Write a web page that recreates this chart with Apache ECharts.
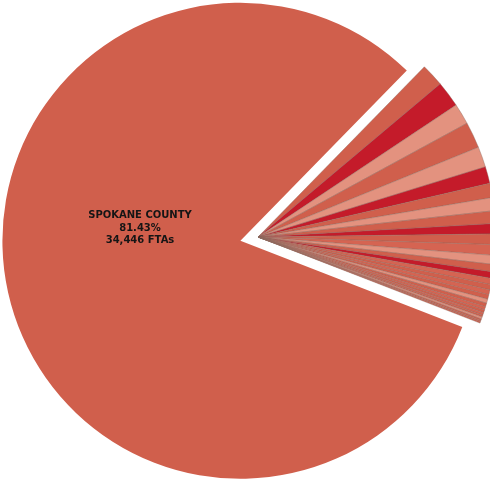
<!DOCTYPE html>
<html>
<head>
<meta charset="utf-8">
<script src="https://cdn.jsdelivr.net/npm/echarts@6/dist/echarts.min.js"></script>
<style>
html, body { margin: 0; padding: 0; background: #fff; }
#chart { width: 490px; height: 479px; }
</style>
</head>
<body>
<div id="chart"></div>
<script>
// FTAs per county
const counties = ['SPOKANE COUNTY', 'STEVENS COUNTY', 'KOOTENAI COUNTY', 'LINCOLN COUNTY', 'WHITMAN COUNTY',
    'PEND OREILLE COUNTY', 'KING COUNTY', 'ADAMS COUNTY', 'GRANT COUNTY', 'FERRY COUNTY', 'BONNER COUNTY',
    'BENTON COUNTY', 'PIERCE COUNTY', 'SNOHOMISH COUNTY', 'YAKIMA COUNTY', 'FRANKLIN COUNTY', 'CHELAN COUNTY',
    'DOUGLAS COUNTY', 'OKANOGAN COUNTY', 'WALLA WALLA COUNTY', 'CLARK COUNTY', 'THURSTON COUNTY',
    'ASOTIN COUNTY', 'KITTITAS COUNTY', 'GARFIELD COUNTY', 'COLUMBIA COUNTY', 'LATAH COUNTY',
    'SHOSHONE COUNTY', 'BOUNDARY COUNTY', 'OTHER'];
const ftas = [34446, 658, 752, 599, 752, 588, 482, 411, 376, 364, 294, 306, 306, 258, 212, 188, 176,
    153, 141, 129, 118, 106, 94, 82, 71, 59, 59, 47, 35, 39];

const MED = '#d05f4c', DARK = '#c41b2a', LIGHT = '#e3927f', MED2 = '#d56452';
const sliceColors = [MED, MED, DARK, LIGHT, MED, LIGHT, DARK, MED, LIGHT, MED, DARK, MED, MED2,
    LIGHT, MED, DARK, MED2, MED, MED2, MED, LIGHT, MED, MED2, MED, MED2, MED, LIGHT, MED, MED2, MED];

function drawPie() {
    let total = ftas.reduce((a, b) => a + b, 0)
    let data = []
    for (let i = 0; i < ftas.length; i++) {
        let item = {
            name: counties[i],
            value: ftas[i],
            itemStyle: { color: sliceColors[i] }
        }
        if (i == 0) {
            item.selected = true
            item.itemStyle.borderWidth = 0
        }
        data.push(item)
    }
    // label of the big slice
    let pct = (ftas[0] / total * 100).toFixed(2)
    let bigLabel = counties[0] + '\n' + pct + '%\n' + ftas[0].toLocaleString('en-US') + ' FTAs'

    let myChart = echarts.init(document.getElementById('chart'))
    let option = {
        animation: false,
        graphic: [{
            type: 'text',
            x: 140,
            y: 228,
            z: 100,
            silent: true,
            style: {
                text: bigLabel,
                fill: '#151515',
                fontFamily: 'DejaVu Sans',
                fontWeight: 'bold',
                fontSize: 10,
                lineHeight: 12.5,
                align: 'center',
                verticalAlign: 'middle'
            }
        }],
        series: [{
            type: 'pie',
            center: [258, 237],
            radius: 238,
            startAngle: 338.8,
            clockwise: true,
            selectedMode: 'single',
            selectedOffset: 18,
            itemStyle: { borderColor: '#8a6a60', borderWidth: 0.4 },
            label: { show: false },
            labelLine: { show: false },
            emphasis: { disabled: true },
            data: data
        }]
    }
    myChart.setOption(option)
}
drawPie()
</script>
</body>
</html>
